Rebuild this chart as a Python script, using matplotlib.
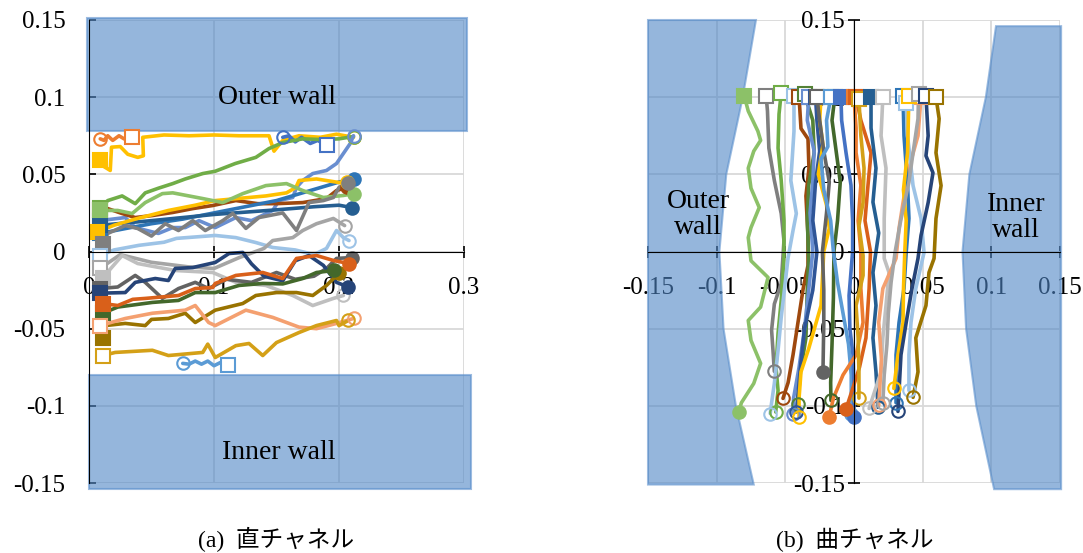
import matplotlib
matplotlib.use("Agg")
import matplotlib.pyplot as plt
from matplotlib.patches import Polygon

plt.rcParams['font.family'] = ['Liberation Serif', 'Noto Sans CJK JP', 'DejaVu Sans']

# ---------------- (a) straight channel : trajectories (x, y) ----------------
a_yellow_top = [(0.0088,0.0596),(0.012,0.055),(0.017,0.0525),(0.018,0.0676),(0.025,0.068),(0.031,0.063),
                (0.039,0.061),(0.0435,0.062),(0.043,0.074),(0.06,0.0755),(0.08,0.075),(0.1,0.0755),(0.12,0.075),
                (0.144,0.075),(0.148,0.065),(0.155,0.072),(0.168,0.075),(0.185,0.074),(0.198,0.076),(0.2116,0.074)]
a_orange_short = [(0.034,0.074),(0.028,0.073),(0.024,0.075),(0.019,0.072),(0.015,0.075),(0.012,0.072),(0.009,0.073)]
a_blue_short = [(0.19,0.0687),(0.183,0.072),(0.177,0.07),(0.17,0.074),(0.165,0.071),(0.16,0.075),(0.155,0.074)]
a_green = [(0.009,0.028),(0.015,0.033),(0.0265,0.036),(0.037,0.031),(0.045,0.038),(0.0555,0.041),(0.067,0.044),
           (0.077,0.047),(0.091,0.0505),(0.101,0.052),(0.117,0.057),(0.1335,0.061),(0.144,0.0667),(0.155,0.0706),
           (0.171,0.073),(0.1875,0.0725),(0.2,0.073),(0.2116,0.0745)]
a_medblue = [(0.0088,0.02),(0.029,0.022),(0.037,0.0155),(0.0555,0.0117),(0.067,0.0155),(0.077,0.0155),(0.088,0.02),
             (0.101,0.0155),(0.1175,0.022),(0.13,0.02),(0.147,0.0266),(0.152,0.033),(0.163,0.035),(0.166,0.0415),
             (0.171,0.046),(0.179,0.0505),(0.19,0.0525),(0.198,0.057),(0.2035,0.0635),(0.209,0.07),(0.2116,0.075)]
a_lightgreen = [(0.0088,0.0266),(0.023,0.0266),(0.0345,0.0246),(0.045,0.0317),(0.0587,0.0375),(0.067,0.038),
                (0.091,0.0343),(0.107,0.0317),(0.123,0.0375),(0.1415,0.0427),(0.158,0.044),(0.171,0.0395),
                (0.1875,0.035),(0.2035,0.0363),(0.2116,0.0375)]
a_brown = [(0.009,0.027),(0.015,0.0278),(0.0265,0.0246),(0.037,0.022),(0.0507,0.0233),(0.067,0.0253),(0.083,0.0278),
           (0.099,0.0298),(0.1175,0.033),(0.135,0.031),(0.15,0.031),(0.171,0.0317),(0.19,0.0343),(0.198,0.0395),
           (0.206,0.0415)]
a_blue = [(0.0088,0.0117),(0.03,0.015),(0.05,0.018),(0.075,0.021),(0.1,0.025),(0.125,0.029),(0.15,0.033),
          (0.175,0.039),(0.2,0.045),(0.2116,0.047)]
a_darkblue = [(0.009,0.017),(0.05,0.02),(0.1,0.024),(0.15,0.027),(0.18,0.029),(0.2,0.03),(0.21,0.0285)]
a_gray = [(0.011,0.005),(0.015,0.0117),(0.029,0.0168),(0.039,0.0149),(0.05,0.01),(0.061,0.018),(0.0716,0.0136),
          (0.083,0.02),(0.093,0.0136),(0.107,0.02),(0.115,0.0246),(0.1255,0.015),(0.136,0.022),(0.155,0.025),
          (0.166,0.0136),(0.176,0.0317),(0.1875,0.033),(0.1955,0.035),(0.2,0.0415),(0.2075,0.0447)]
a_yellow2 = [(0.006,0.0125),(0.02,0.017),(0.037,0.021),(0.0635,0.0266),(0.085,0.03),(0.101,0.033),(0.128,0.035),
             (0.1415,0.036),(0.158,0.038),(0.1655,0.0415),(0.168,0.046),(0.182,0.047),(0.2,0.0447),(0.206,0.045)]
a_lightblue = [(0.0088,-0.0026),(0.02,0.001),(0.04,0.004),(0.06,0.006),(0.07,0.0085),(0.101,0.0104),(0.1175,0.009),
               (0.1335,0.0058),(0.147,0.0026),(0.165,0.001),(0.18,-0.002),(0.19,0.002),(0.198,0.0136),
               (0.2035,0.009),(0.208,0.0071)]
a_lightgray1 = [(0.0088,-0.011),(0.025,-0.002),(0.05,-0.007),(0.08,-0.01),(0.1,-0.011),(0.12,-0.004),(0.14,0.002),
                (0.147,0.0071),(0.163,0.009),(0.171,0.0136),(0.182,0.018),(0.1955,0.0214),(0.2045,0.0168)]
a_lightgray2 = [(0.011,-0.017),(0.0265,-0.0026),(0.039,-0.0078),(0.069,-0.0123),(0.099,-0.0136),(0.1175,-0.02),
                (0.1415,-0.022),(0.163,-0.0285),(0.179,-0.035),(0.1955,-0.0304),(0.2035,-0.0285)]
a_darkgray = [(0.0088,-0.024),(0.023,-0.023),(0.037,-0.0155),(0.045,-0.02),(0.0587,-0.0304),(0.0716,-0.024),
              (0.085,-0.02),(0.0957,-0.024),(0.11,-0.018),(0.13,-0.02),(0.15,-0.0136),(0.165,-0.018),
              (0.18,-0.016),(0.19,-0.011),(0.198,-0.0045),(0.21,-0.0039)]
a_navy = [(0.0088,-0.027),(0.029,-0.0266),(0.037,-0.02),(0.053,-0.0175),(0.0635,-0.0188),(0.069,-0.011),
          (0.083,-0.0104),(0.101,-0.0071),(0.112,-0.0013),(0.123,-0.0006),(0.13,-0.008),(0.14,-0.016),
          (0.155,-0.019),(0.165,-0.006),(0.176,-0.0026),(0.1875,-0.009),(0.198,-0.02),(0.2075,-0.023)]
a_orange = [(0.011,-0.0337),(0.023,-0.035),(0.035,-0.031),(0.045,-0.0304),(0.0716,-0.0285),(0.085,-0.024),
            (0.099,-0.0233),(0.101,-0.0207),(0.1175,-0.0155),(0.139,-0.0136),(0.155,-0.0175),(0.166,-0.0045),
            (0.182,-0.0026),(0.1955,-0.0058),(0.208,-0.0078)]
a_darkgreen = [(0.011,-0.04),(0.023,-0.036),(0.0507,-0.033),(0.0716,-0.0317),(0.085,-0.0266),(0.101,-0.0266),
               (0.12,-0.022),(0.139,-0.0207),(0.155,-0.021),(0.171,-0.0175),(0.182,-0.0136),(0.196,-0.0123)]
a_olive = [(0.011,-0.0563),(0.013,-0.048),(0.029,-0.0466),(0.045,-0.048),(0.05,-0.044),(0.0635,-0.0434),
           (0.077,-0.04),(0.085,-0.046),(0.101,-0.038),(0.123,-0.0337),(0.1335,-0.0285),(0.15,-0.0266),
           (0.166,-0.0266),(0.179,-0.0285),(0.19,-0.022),(0.2,-0.014)]
a_lightorange = [(0.0088,-0.048),(0.029,-0.0434),(0.0507,-0.04),(0.077,-0.038),(0.085,-0.035),(0.0957,-0.046),
                 (0.101,-0.048),(0.1255,-0.038),(0.147,-0.0427),(0.168,-0.049),(0.182,-0.05),(0.198,-0.0466),
                 (0.2116,-0.0434)]
a_gold = [(0.011,-0.0674),(0.021,-0.0654),(0.0507,-0.064),(0.0635,-0.0674),(0.091,-0.0654),(0.095,-0.06),
          (0.101,-0.0687),(0.1175,-0.061),(0.128,-0.0596),(0.139,-0.0674),(0.15,-0.059),(0.168,-0.0525),
          (0.182,-0.048),(0.198,-0.0447),(0.2,-0.048),(0.2075,-0.0447)]
a_skyblue_short = [(0.111,-0.0738),(0.105,-0.072),(0.1,-0.074),(0.095,-0.071),(0.09,-0.073),(0.085,-0.071),
                   (0.08,-0.073),(0.075,-0.0725)]

# ---------------- (b) curved channel : trajectories (x, y) ----------------
b_lightgreen = [(-0.080,0.101),(-0.077,0.091),(-0.070,0.078),(-0.068,0.072),(-0.073,0.065),(-0.077,0.054),
                (-0.075,0.041),(-0.069,0.0285),(-0.075,0.0155),(-0.077,0.009),(-0.075,-0.006),(-0.0626,-0.0168),
                (-0.068,-0.036),(-0.077,-0.0447),(-0.075,-0.0576),(-0.068,-0.0725),(-0.073,-0.0855),
                (-0.082,-0.098),(-0.0838,-0.104)]
b_gray = [(-0.064,0.101),(-0.063,0.091),(-0.062,0.067),(-0.058,0.046),(-0.053,0.0246),(-0.051,0.007),
          (-0.053,-0.0207),(-0.058,-0.034),(-0.060,-0.051),(-0.059,-0.064),(-0.058,-0.0777)]
b_green = [(-0.053,0.103),(-0.0546,0.089),(-0.0553,0.067),(-0.053,0.046),(-0.051,0.02),(-0.051,-0.004),
           (-0.053,-0.0317),(-0.0553,-0.053),(-0.0568,-0.075),(-0.0553,-0.09),(-0.057,-0.104)]
b_lightblue = [(-0.0437,0.101),(-0.0437,0.078),(-0.046,0.046),(-0.042,0.0246),(-0.0444,0.0136),(-0.048,-0.004),
               (-0.053,-0.0427),(-0.0553,-0.064),(-0.058,-0.0855),(-0.060,-0.098),(-0.061,-0.105)]
b_brown = [(-0.040,0.1),(-0.0386,0.0797),(-0.0335,0.073),(-0.0328,0.0538),(-0.035,0.036),(-0.0335,0.0104),
           (-0.0335,-0.009),(-0.037,-0.024),(-0.0408,-0.046),(-0.0444,-0.067),(-0.048,-0.085),(-0.0517,-0.0952)]
b_darkgreen1 = [(-0.036,0.102),(-0.03,0.085),(-0.029,0.064),(-0.033,0.043),(-0.034,0.021),(-0.033,-0.005),
                (-0.034,-0.024),(-0.035,-0.056),(-0.039,-0.078),(-0.041,-0.0985)]
b_medblue = [(-0.033,0.1),(-0.034,0.085),(-0.029,0.065),(-0.03,0.045),(-0.032,0.025),(-0.03,0.0),(-0.033,-0.025),
             (-0.036,-0.05),(-0.04,-0.075),(-0.044,-0.095),(-0.0444,-0.105)]
b_navy1 = [(-0.028,0.1),(-0.027,0.085),(-0.025,0.065),(-0.028,0.045),(-0.03,0.02),(-0.027,0.0),(-0.03,-0.025),
           (-0.036,-0.05),(-0.039,-0.075),(-0.041,-0.095),(-0.042,-0.104)]
b_yellow1 = [(-0.024,0.1),(-0.025,0.085),(-0.0226,0.069),(-0.026,0.05),(-0.02,0.03),(-0.018,0.015),(-0.022,0.0),
             (-0.024,-0.035),(-0.033,-0.063),(-0.0386,-0.078),(-0.04,-0.095),(-0.04,-0.1075)]
b_darkgray = [(-0.027,0.1),(-0.025,0.085),(-0.022,0.065),(-0.018,0.045),(-0.02,0.025),(-0.023,0.0),(-0.022,-0.025),
              (-0.022,-0.046),(-0.0226,-0.078)]
b_darkgreen2 = [(-0.014,0.1),(-0.016,0.085),(-0.013,0.065),(-0.01,0.045),(-0.012,0.02),(-0.0146,0.0),(-0.015,-0.03),
                (-0.016,-0.06),(-0.017,-0.085),(-0.0168,-0.0965)]
b_skyblue = [(-0.0168,0.1),(-0.02,0.085),(-0.019,0.068),(-0.024,0.06),(-0.022,0.04),(-0.017,0.02),(-0.015,0.0),
             (-0.012,-0.02),(-0.008,-0.04),(-0.004,-0.06),(-0.002,-0.08),(-0.002,-0.105)]
b_blue = [(-0.0095,0.1),(-0.009,0.085),(-0.0058,0.064),(-0.0022,0.043),(-0.001,0.02),(-0.001,0.0),(-0.0036,-0.0285),
          (-0.003,-0.05),(-0.0007,-0.067),(0.0,-0.089),(0.0,-0.107)]
b_orange = [(0.0,0.1),(0.0015,0.08),(0.0015,0.064),(0.005,0.043),(0.003,0.02),(0.005,0.0),(0.005,-0.024),
            (0.0066,-0.046),(0.0015,-0.067),(-0.008,-0.08),(-0.015,-0.095),(-0.018,-0.107)]
b_darkorange = [(0.0015,0.1),(0.005,0.085),(0.0124,0.064),(0.0102,0.043),(0.008,0.02),(0.012,0.0),(0.011,-0.024),
                (0.0087,-0.056),(0.004,-0.075),(-0.001,-0.089),(-0.0058,-0.102)]
b_gold = [(0.0036,0.099),(0.005,0.075),(0.0073,0.054),(0.0066,0.0317),(0.0036,0.0168),(0.0066,-0.0026),
          (0.0066,-0.0155),(0.0015,-0.035),(0.003,-0.056),(0.0036,-0.078),(0.0036,-0.095)]
b_steel = [(0.0124,0.1),(0.0124,0.08),(0.016,0.054),(0.0138,0.032),(0.018,0.012),(0.0138,-0.0136),(0.016,-0.035),
           (0.0138,-0.056),(0.016,-0.078),(0.0175,-0.101)]
b_lightgray = [(0.021,0.1),(0.0197,0.075),(0.0233,0.054),(0.022,0.0214),(0.022,-0.0045),(0.0255,-0.0136),
               (0.0233,-0.035),(0.021,-0.056),(0.0197,-0.078),(0.011,-0.1017)]
b_lightorange = [(0.0488,0.1),(0.0466,0.075),(0.040,0.054),(0.0357,0.0317),(0.0328,0.015),(0.0306,-0.0045),
                 (0.021,-0.024),(0.018,-0.046),(0.02,-0.07),(0.018,-0.0997)]
b_blue2 = [(0.0357,0.101),(0.0364,0.075),(0.039,0.0427),(0.040,0.0214),(0.038,-0.0006),(0.0364,-0.024),
           (0.0328,-0.046),(0.0306,-0.067),(0.0306,-0.098)]
b_paleblue = [(0.038,0.096),(0.039,0.075),(0.043,0.0427),(0.0488,0.0214),(0.051,-0.0006),(0.045,-0.024),
              (0.0415,-0.046),(0.040,-0.067),(0.040,-0.09)]
b_yellow2 = [(0.040,0.101),(0.039,0.064),(0.036,0.04),(0.038,0.02),(0.037,0.0),(0.036,-0.025),(0.0357,-0.046),
             (0.032,-0.067),(0.029,-0.0887)]
b_gray2 = [(0.047,0.102),(0.0466,0.086),(0.043,0.064),(0.04,0.045),(0.034,0.02),(0.03,0.0),(0.027,-0.02),
           (0.025,-0.04),(0.024,-0.06),(0.022,-0.08),(0.021,-0.098)]
b_navy2 = [(0.0524,0.101),(0.054,0.075),(0.0524,0.062),(0.0575,0.051),(0.054,0.0317),(0.0488,0.0104),
           (0.0466,-0.0045),(0.042,-0.025),(0.038,-0.046),(0.0342,-0.067),(0.032,-0.1036)]
b_olive = [(0.0597,0.1),(0.062,0.086),(0.0597,0.064),(0.0634,0.0427),(0.0597,0.0214),(0.0583,-0.0045),
           (0.0546,-0.0136),(0.0524,-0.035),(0.045,-0.056),(0.0466,-0.078),(0.043,-0.0945)]

# wall outlines (x, y)
b_outer_wall = [(-0.15,0.15),(-0.0714,0.15),(-0.081,0.1),(-0.093,0.05),(-0.098,0.0),(-0.095,-0.05),
                (-0.086,-0.1),(-0.073,-0.151),(-0.15,-0.151)]
b_inner_wall = [(0.1508,0.146),(0.1034,0.146),(0.096,0.1),(0.084,0.05),(0.079,0.0),(0.0816,-0.05),
                (0.089,-0.1),(0.102,-0.154),(0.1508,-0.154)]

ticks_a_x = [0, 0.1, 0.2, 0.3]
ticks_y = [-0.15, -0.1, -0.05, 0, 0.05, 0.1, 0.15]
ticks_b_x = [-0.15, -0.1, -0.05, 0, 0.05, 0.1, 0.15]

C = dict(blue='#4472C4', orange='#ED7D31', gray='#A5A5A5', yellow='#FFC000', sky='#5B9BD5', green='#70AD47',
         navy='#264478', brown='#9E480E', dgray='#636363', olive='#997300', steel='#255E91', dgreen='#43682B',
         mblue='#698ED0', lorange='#F4A070', lgray='#BFBFBF', lgreen='#8CC168', pblue='#9DC3E6',
         gold='#D4A017', mgray='#7F7F7F', dorange='#D9601A')

# style: (trajectory, colour, start filled, end filled)
style_a = [
    (a_yellow_top, C['yellow'], True, False), (a_orange_short, C['orange'], False, False),
    (a_blue_short, C['blue'], False, False), (a_green, C['green'], True, False),
    (a_medblue, C['mblue'], True, False), (a_brown, C['brown'], True, True),
    (a_blue, '#2E75B6', True, True), (a_darkblue, C['steel'], True, True),
    (a_yellow2, C['yellow'], True, True), (a_lightgreen, C['lgreen'], True, True),
    (a_gray, C['mgray'], True, True), (a_lightblue, C['pblue'], False, False),
    (a_lightgray1, C['gray'], False, False), (a_lightgray2, C['lgray'], True, False),
    (a_darkgray, C['dgray'], True, True), (a_navy, C['navy'], True, True),
    (a_olive, C['olive'], True, True), (a_darkgreen, C['dgreen'], True, True),
    (a_orange, C['dorange'], True, True), (a_lightorange, C['lorange'], False, False),
    (a_gold, C['gold'], False, False), (a_skyblue_short, C['sky'], False, False),
]
style_b = [
    (b_lightgreen, C['lgreen'], True, True), (b_gray, C['mgray'], False, False),
    (b_green, C['green'], False, False), (b_lightblue, C['pblue'], False, False),
    (b_brown, C['brown'], False, False), (b_darkgreen1, '#548235', False, False),
    (b_medblue, C['mblue'], False, False), (b_navy1, '#2F5597', False, False),
    (b_yellow1, C['yellow'], False, False), (b_darkgray, C['dgray'], False, True),
    (b_darkgreen2, C['dgreen'], False, False), (b_skyblue, C['sky'], False, True),
    (b_blue, C['blue'], True, True), (b_orange, C['orange'], True, True),
    (b_darkorange, C['dorange'], True, True), (b_gold, C['gold'], False, False),
    (b_steel, C['steel'], True, False), (b_lightgray, C['lgray'], False, False),
    (b_lightorange, C['lorange'], False, False), (b_blue2, '#2E75B6', False, False),
    (b_paleblue, C['pblue'], False, False), (b_yellow2, C['yellow'], False, False),
    (b_gray2, C['gray'], False, False), (b_navy2, C['navy'], False, False),
    (b_olive, C['olive'], False, False),
]

WALL_FC = '#4F86C6'
WALL_EC = '#5A8FCC'
TICK_FS = 18
WALL_FS = 20

fig = plt.figure(figsize=(10.83, 5.53), dpi=100)
axA = fig.add_axes([89/1083, 1-483/553, 375/1083, 463/553])
axB = fig.add_axes([648/1083, 1-483/553, 412/1083, 463/553])


def draw_traj(ax, styles):
    for pts, col, sfill, efill in styles:
        xs = [p[0] for p in pts]
        ys = [p[1] for p in pts]
        ax.plot(xs, ys, color=col, lw=2.6, solid_joinstyle='round', solid_capstyle='round', zorder=3)
        ax.plot(xs[0], ys[0], marker='s', ms=9.5, mfc=col if sfill else 'white', mec=col,
                mew=1.5, zorder=4, clip_on=False)
        ax.plot(xs[-1], ys[-1], marker='o', ms=9, mfc=col if efill else 'none', mec=col,
                mew=1.5, zorder=4, clip_on=False)


# ---------- panel (a) ----------
ax = axA
ax.set_xlim(0, 0.3)
ax.set_ylim(-0.15, 0.15)
ax.set_xticks(ticks_a_x)
ax.set_yticks(ticks_y)
ax.set_xticklabels(['0', '0.1', '0.2', '0.3'])
ax.set_yticklabels(['-0.15', '-0.1', '-0.05', '0', '0.05', '0.1', '0.15'])
ax.grid(True, color='#D9D9D9', lw=1.3)
ax.set_axisbelow(True)
for s in ['top', 'right']:
    ax.spines[s].set_visible(False)
ax.spines['bottom'].set_position(('data', 0))
ax.spines['bottom'].set_zorder(5)
ax.spines['left'].set_zorder(5)
ax.tick_params(axis='x', direction='inout', length=9, width=1.2, pad=14, labelsize=TICK_FS)
ax.tick_params(axis='y', direction='in', length=5, width=1.2, pad=17, labelsize=TICK_FS)
ax.fill([-0.0016, 0.302, 0.302, -0.0016], [0.078, 0.078, 0.151, 0.151], fc=WALL_FC, ec=WALL_EC,
        alpha=0.6, lw=1.5, zorder=2, clip_on=False)
ax.fill([0, 0.3057, 0.3057, 0], [-0.0803, -0.0803, -0.154, -0.154], fc=WALL_FC, ec=WALL_EC,
        alpha=0.6, lw=1.5, zorder=2, clip_on=False)
ax.text(0.15, 0.1, 'Outer wall', ha='center', va='center', fontsize=WALL_FS, zorder=6)
ax.text(0.152, -0.130, 'Inner wall', ha='center', va='center', fontsize=WALL_FS, zorder=6)
draw_traj(ax, style_a)

# ---------- panel (b) ----------
ax = axB
ax.set_xlim(-0.15, 0.15)
ax.set_ylim(-0.15, 0.15)
ax.set_xticks(ticks_b_x)
ax.set_yticks(ticks_y)
ax.set_xticklabels(['-0.15', '-0.1', '-0.05', '0', '0.05', '0.1', '0.15'])
ax.set_yticklabels(['-0.15', '-0.1', '-0.05', '0', '0.05', '0.1', '0.15'])
ax.grid(True, color='#D9D9D9', lw=1.3)
ax.set_axisbelow(True)
for s in ['top', 'right']:
    ax.spines[s].set_visible(False)
ax.spines['bottom'].set_position(('data', 0))
ax.spines['left'].set_position(('data', 0))
ax.spines['bottom'].set_zorder(5)
ax.spines['left'].set_zorder(5)
ax.tick_params(axis='x', direction='inout', length=9, width=1.2, pad=14, labelsize=TICK_FS)
ax.tick_params(axis='y', direction='inout', length=9, width=1.2, pad=2, labelsize=TICK_FS)
ax.add_patch(Polygon(b_outer_wall, closed=True, fc=WALL_FC, ec=WALL_EC, alpha=0.6, lw=1.5, zorder=2,
                     clip_on=False))
ax.add_patch(Polygon(b_inner_wall, closed=True, fc=WALL_FC, ec=WALL_EC, alpha=0.6, lw=1.5, zorder=2,
                     clip_on=False))
ax.text(-0.1136, 0.024, 'Outer\nwall', ha='center', va='center', fontsize=WALL_FS, zorder=6,
        linespacing=1.05)
ax.text(0.118, 0.022, 'Inner\nwall', ha='center', va='center', fontsize=WALL_FS, zorder=6,
        linespacing=1.05)
draw_traj(ax, style_b)

fig.text(276/1083, 1-540/553, '(a)  直チャネル', ha='center', va='center', fontsize=17)
fig.text(855/1083, 1-540/553, '(b)  曲チャネル', ha='center', va='center', fontsize=17)

fig.savefig('out.png', dpi=100)
